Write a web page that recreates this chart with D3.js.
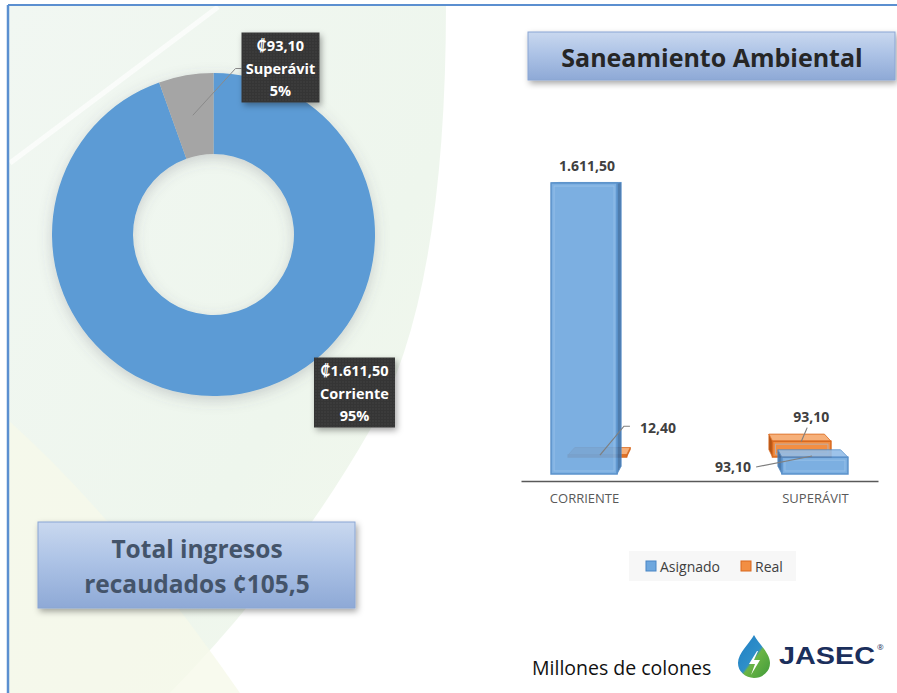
<!DOCTYPE html>
<html>
<head>
<meta charset="utf-8">
<script src="https://cdn.jsdelivr.net/npm/d3@7/dist/d3.min.js"></script>
<style>
  body { margin: 0; background: #fff; }
  svg { display: block; font-family: "Open Sans", Lato, "DejaVu Sans", sans-serif; }
</style>
</head>
<body>
<svg id="chart" width="897" height="693"></svg>
<script>
// donut data
const pieLabels = ['Corriente', 'Superávit']
const pieValues = [1611.50, 93.10]
const pieColors = ['#5b9bd5', '#a5a5a5']

// 3d column data
const categories = ['CORRIENTE', 'SUPERÁVIT']
const seriesNames = ['Asignado', 'Real']
const asignado = [1611.50, 93.10]
const real = [12.40, 93.10]

const totalText = ['Total ingresos', 'recaudados ¢105,5']

const locale = d3.formatLocale({ decimal: ',', thousands: '.', grouping: [3], currency: ['₡', ''] })
const fmt = locale.format(',.2f')

const svg = d3.select('#chart')
const width = 897, height = 693

const defs = svg.append('defs')

// shadows
let sh = defs.append('filter').attr('id', 'shadow').attr('x', '-20%').attr('y', '-20%').attr('width', '140%').attr('height', '140%')
sh.append('feDropShadow').attr('dx', 2).attr('dy', 3).attr('stdDeviation', 3).attr('flood-color', '#000').attr('flood-opacity', 0.35)

let soft = defs.append('filter').attr('id', 'soft').attr('x', '-20%').attr('y', '-20%').attr('width', '140%').attr('height', '140%')
soft.append('feDropShadow').attr('dx', 0).attr('dy', 4).attr('stdDeviation', 7).attr('flood-color', '#556').attr('flood-opacity', 0.25)

let boxGrad = defs.append('linearGradient').attr('id', 'boxGrad').attr('x1', 0).attr('y1', 0).attr('x2', 0).attr('y2', 1)
boxGrad.append('stop').attr('offset', '0%').attr('stop-color', '#c9d8ef')
boxGrad.append('stop').attr('offset', '45%').attr('stop-color', '#adc3e6')
boxGrad.append('stop').attr('offset', '100%').attr('stop-color', '#8ea9d6')

let bgGrad = defs.append('linearGradient').attr('id', 'bgGrad').attr('x1', 0).attr('y1', 0).attr('x2', 1).attr('y2', 1)
bgGrad.append('stop').attr('offset', '0%').attr('stop-color', '#f1f7f2')
bgGrad.append('stop').attr('offset', '60%').attr('stop-color', '#eef6ed')
bgGrad.append('stop').attr('offset', '100%').attr('stop-color', '#f3f8ec')

let dots = defs.append('pattern').attr('id', 'dots').attr('width', 3).attr('height', 3).attr('patternUnits', 'userSpaceOnUse')
dots.append('rect').attr('width', 3).attr('height', 3).attr('fill', '#353535')
dots.append('rect').attr('width', 1).attr('height', 1).attr('fill', '#4c4c4c')

let dropGrad = defs.append('linearGradient').attr('id', 'dropGrad').attr('x1', 0).attr('y1', 0).attr('x2', 1).attr('y2', 1)
dropGrad.append('stop').attr('offset', '0%').attr('stop-color', '#1f7fc4')
dropGrad.append('stop').attr('offset', '50%').attr('stop-color', '#2f8fc9')
dropGrad.append('stop').attr('offset', '55%').attr('stop-color', '#6cb545')
dropGrad.append('stop').attr('offset', '100%').attr('stop-color', '#3f9a3a')

// background leaf shapes
svg.append('path')
  .attr('d', 'M8,5 L446,5 Q446,300 370,430 Q290,570 170,693 L8,693 Z')
  .attr('fill', 'url(#bgGrad)')
svg.append('path')
  .attr('d', 'M8,420 Q120,520 240,693 L8,693 Z')
  .attr('fill', '#f6f9ea').attr('opacity', 0.8)
svg.append('line')
  .attr('x1', 10).attr('y1', 163).attr('x2', 218).attr('y2', 7)
  .attr('stroke', '#fff').attr('stroke-width', 5).attr('opacity', 0.7)

// frame
svg.append('line').attr('x1', 8).attr('x2', width).attr('y1', 5).attr('y2', 5)
  .attr('stroke', '#5b8fd0').attr('stroke-width', 2)
svg.append('line').attr('x1', 8).attr('x2', 8).attr('y1', 5).attr('y2', height)
  .attr('stroke', '#5b8fd0').attr('stroke-width', 2.5)

// ---------- donut ----------
const cx = 213.5, cy = 234.5, rOuter = 161.5, rInner = 80.5
const pie = d3.pie().sort(null).value(d => d)
const arcs = pie(pieValues)
const total = d3.sum(pieValues)
const arc = d3.arc().innerRadius(rInner).outerRadius(rOuter)

let donut = svg.append('g').attr('transform', `translate(${cx},${cy})`)

donut.append('g').attr('filter', 'url(#soft)')
  .selectAll('path')
  .data(arcs)
  .join('path')
  .attr('d', arc)
  .attr('fill', (d, i) => pieColors[i])

// label boxes, offsets from the donut centre
const pieLabelPos = [[141, 158], [67, -167]]
const boxW = [81, 78], boxH = 70

arcs.forEach((a, i) => {
  let [lx, ly] = pieLabelPos[i]
  if (i == 1) {
    let c = arc.centroid(a)
    donut.append('polyline')
      .attr('points', [c, [lx - boxW[i] / 2 - 6, ly + 1], [lx - boxW[i] / 2, ly + 1]].map(p => p.join(',')).join(' '))
      .attr('fill', 'none').attr('stroke', '#8a8a8a').attr('stroke-width', 1)
  }
  donut.append('rect')
    .attr('x', lx - boxW[i] / 2).attr('y', ly - boxH / 2)
    .attr('width', boxW[i]).attr('height', boxH)
    .attr('fill', 'url(#dots)')
    .attr('filter', 'url(#shadow)')
  let lines = ['₡' + fmt(pieValues[i]), pieLabels[i], Math.round(pieValues[i] / total * 100) + '%']
  donut.append('text')
    .attr('text-anchor', 'middle')
    .attr('fill', '#fff')
    .attr('font-weight', 'bold')
    .attr('font-size', 14.5)
    .selectAll('tspan')
    .data(lines)
    .join('tspan')
    .attr('x', lx)
    .attr('y', (d, j) => ly - 22 + j * 22.5)
    .attr('dominant-baseline', 'central')
    .text(d => d)
})

// total box
svg.append('rect')
  .attr('x', 38).attr('y', 522).attr('width', 317).attr('height', 86)
  .attr('fill', 'url(#boxGrad)').attr('stroke', '#8aa6d3').attr('stroke-width', 1)
  .attr('filter', 'url(#shadow)')
svg.append('text')
  .attr('text-anchor', 'middle').attr('fill', '#44546a')
  .attr('font-weight', 'bold').attr('font-size', 24.5)
  .selectAll('tspan').data(totalText).join('tspan')
  .attr('x', 197).attr('y', (d, i) => 548 + i * 35)
  .attr('dominant-baseline', 'central')
  .text(d => d)

// title box
svg.append('rect')
  .attr('x', 528).attr('y', 32).attr('width', 367).attr('height', 48)
  .attr('fill', 'url(#boxGrad)').attr('stroke', '#8aa6d3').attr('stroke-width', 1)
  .attr('filter', 'url(#shadow)')
svg.append('text')
  .attr('x', 712).attr('y', 57)
  .attr('text-anchor', 'middle').attr('dominant-baseline', 'central')
  .attr('fill', '#262626').attr('font-weight', 'bold').attr('font-size', 25)
  .text('Saneamiento Ambiental')

// ---------- 3d columns ----------
const baseY = 481
let x = d3.scalePoint().domain(categories).range([521, 878]).padding(0.273)
let y = d3.scaleLinear().domain([0, 1800]).range([474, 149])
const barW = 66

// perspective toward a vanishing point; back row smaller and lifted
const vx = 700, vy = 160
const rowK = [{ kx: 1, ky: 1 }, { kx: 0.885, ky: 0.946 }]
const depth = { kx: 0.95, ky: 0.975 }
const proj = (px, py, k) => [vx + (px - vx) * k.kx, vy + (py - vy) * k.ky]

const styles = [
  { front: '#6ea7de', edge: '#4a86c5', side: '#3b6ea5', top: '#93bde8', op: 0.9 },
  { front: '#f28e43', edge: '#d9691f', side: '#b45516', top: '#f6b07a', op: 1 }
]

let bars = svg.append('g')
let seriesData = [asignado, real]

// axis
let xAxis = svg.append('g')
  .attr('transform', `translate(0,${baseY})`)
  .call(d3.axisBottom(x).tickSize(0).tickPadding(13))
xAxis.select('.domain').attr('stroke', '#595959').attr('stroke-width', 1.5)
xAxis.selectAll('text')
  .attr('fill', '#595959').attr('font-size', 13)
  .style('font-family', '"Open Sans", Lato, sans-serif')

const pts = arr => arr.map(p => p.join(',')).join(' ')

const drawBox = (cat, val, s) => {
  let k = rowK[s]
  let kb = { kx: k.kx * depth.kx, ky: k.ky * depth.ky }
  let x0 = x(cat) - barW / 2, x1 = x(cat) + barW / 2
  let yT = y(val), yB = y(0)
  let f = [proj(x0, yT, k), proj(x1, yT, k), proj(x1, yB, k), proj(x0, yB, k)]
  let b = [proj(x0, yT, kb), proj(x1, yT, kb), proj(x1, yB, kb), proj(x0, yB, kb)]
  let st = styles[s]
  let g = bars.append('g').attr('opacity', st.op)
  let side = x(cat) < vx ? [f[1], b[1], b[2], f[2]] : [f[0], b[0], b[3], f[3]]
  g.append('polygon').attr('points', pts(side))
    .attr('fill', st.side).attr('stroke', st.edge).attr('stroke-width', 0.8)
  g.append('polygon').attr('points', pts([f[0], f[1], b[1], b[0]]))
    .attr('fill', st.top).attr('stroke', st.edge).attr('stroke-width', 0.8)
  g.append('polygon').attr('points', pts(f))
    .attr('fill', st.front).attr('stroke', st.edge).attr('stroke-width', 1.5)
  // inner bevel
  if (f[2][1] - f[1][1] > 8) {
    g.append('rect')
      .attr('x', f[0][0] + 3).attr('y', f[0][1] + 3)
      .attr('width', f[1][0] - f[0][0] - 6).attr('height', f[2][1] - f[1][1] - 6)
      .attr('fill', 'none').attr('stroke', '#9cc4ec').attr('stroke-width', 1).attr('opacity', 0.6)
  }
  return [(f[0][0] + f[1][0] + b[0][0] + b[1][0]) / 4, (f[0][1] + b[0][1]) / 2]
}

// back row first
let anchors = [[], []]
categories.forEach((c, i) => { anchors[1][i] = drawBox(c, real[i], 1) })
categories.forEach((c, i) => { anchors[0][i] = drawBox(c, asignado[i], 0) })

// data labels: anchor nudge (ox, oy), text offset (dx, dy), leader bend
const labelLayout = [
  [{ ox: 0, oy: 0, dx: 0, dy: -17, lead: null, anchor: 'middle' },
   { ox: 0, oy: 2.5, dx: -61, dy: 11, lead: [], anchor: 'end' }],
  [{ ox: 0, oy: 4, dx: 40, dy: -28, lead: [24, -29], anchor: 'start' },
   { ox: 2, oy: 4, dx: 10, dy: -25, lead: [6, -14], anchor: 'middle' }]
]

seriesData.forEach((vals, s) => {
  vals.forEach((v, i) => {
    let L = labelLayout[s][i]
    let ax = anchors[s][i][0] + L.ox, ay = anchors[s][i][1] + L.oy
    if (L.lead) {
      let line = [[ax, ay]]
      if (L.lead.length) line.push([ax + L.lead[0], ay + L.lead[1]])
      if (L.anchor == 'start') line.push([ax + L.lead[0] + 6, ay + L.lead[1]])
      if (L.anchor == 'end') line.push([ax + L.dx + 5, ay + L.dy])
      svg.append('polyline').attr('points', pts(line))
        .attr('fill', 'none').attr('stroke', '#7f7f7f').attr('stroke-width', 1.2)
    }
    svg.append('text')
      .attr('x', ax + L.dx).attr('y', ay + L.dy)
      .attr('text-anchor', L.anchor).attr('dominant-baseline', 'central')
      .attr('fill', '#404040').attr('font-weight', 'bold').attr('font-size', 14)
      .text(fmt(v))
  })
})

// legend
let legend = svg.append('g').attr('transform', 'translate(629,551)')
legend.append('rect').attr('width', 167).attr('height', 30).attr('fill', '#f7f7f7')
let li = legend.selectAll('g').data(seriesNames).join('g')
  .attr('transform', (d, i) => `translate(${[17, 112][i]},0)`)
li.append('rect').attr('y', 10).attr('width', 10).attr('height', 10)
  .attr('fill', (d, i) => styles[i].front).attr('stroke', (d, i) => styles[i].edge)
li.append('text').attr('x', 14).attr('y', 15).attr('dominant-baseline', 'central')
  .attr('fill', '#404040').attr('font-size', 14).text(d => d)

// footer
svg.append('text')
  .attr('x', 532).attr('y', 667).attr('dominant-baseline', 'central')
  .attr('fill', '#111').attr('font-size', 19.5)
  .text('Millones de colones')

let logo = svg.append('g').attr('transform', 'translate(754,635)')
logo.append('path')
  .attr('d', 'M0,0 C4,8 16,18 16,28 A16,15 0 0 1 -16,28 C-16,18 -4,8 0,0 Z')
  .attr('fill', 'url(#dropGrad)')
logo.append('path')
  .attr('d', 'M3,16 L-5,29 L1,29 L-3,40 L6,25 L0,25 L4,16 Z')
  .attr('fill', '#fff')
svg.append('text')
  .attr('x', 779).attr('y', 656).attr('dominant-baseline', 'central')
  .attr('fill', '#1b2f5c').attr('font-weight', 'bold').attr('font-size', 23)
  .attr('textLength', 96).attr('lengthAdjust', 'spacingAndGlyphs')
  .style('font-family', '"Liberation Sans", Arial, sans-serif')
  .text('JASEC')
svg.append('text')
  .attr('x', 877).attr('y', 650).attr('fill', '#1b2f5c').attr('font-size', 8)
  .text('®')
</script>
</body>
</html>
